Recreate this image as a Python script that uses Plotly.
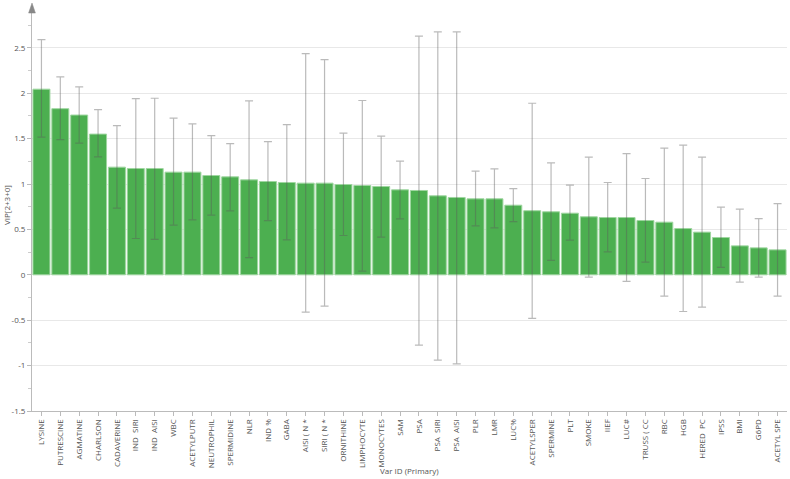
import plotly.graph_objects as go

categories = ["LYSINE", "PUTRESCINE", "AGMATINE", "CHARLSON", "CADAVERINE", "IND  SIRI", "IND  AISI",
              "WBC", "ACETYLPUTR", "NEUTROPHIL", "SPERMIDINE", "NLR", "IND %", "GABA", "AISI ( N *",
              "SIRI ( N *", "ORNITHINE", "LIMPHOCYTE", "MONOCYTES", "SAM", "PSA", "PSA  SIRI",
              "PSA  AISI", "PLR", "LMR", "LUC%", "ACETYLSPER", "SPERMINE", "PLT", "SMOKE", "IIEF",
              "LUC#", "TRUSS ( CC", "RBC", "HGB", "HERED  PC", "IPSS", "BMI", "G6PD", "ACETYL SPE"]

vip = [2.045, 1.83, 1.76, 1.55, 1.186, 1.171, 1.171, 1.131, 1.131, 1.094, 1.079, 1.046, 1.028, 1.017,
       1.01, 1.01, 0.995, 0.984, 0.973, 0.936, 0.929, 0.87, 0.852, 0.837, 0.837, 0.767, 0.706, 0.694,
       0.679, 0.639, 0.631, 0.631, 0.598, 0.58, 0.51, 0.47, 0.411, 0.319, 0.297, 0.275]

upper = [2.59, 2.18, 2.07, 1.82, 1.644, 1.94, 1.945, 1.726, 1.663, 1.534, 1.446, 1.916, 1.468, 1.655,
         2.437, 2.37, 1.56, 1.92, 1.527, 1.252, 2.63, 2.676, 2.676, 1.142, 1.167, 0.95, 1.89, 1.233,
         0.988, 1.296, 1.017, 1.336, 1.061, 1.395, 1.428, 1.296, 0.745, 0.723, 0.62, 0.785]

lower = [1.516, 1.49, 1.45, 1.30, 0.734, 0.40, 0.39, 0.547, 0.606, 0.657, 0.705, 0.19, 0.598, 0.385,
         -0.41, -0.345, 0.433, 0.04, 0.415, 0.617, -0.775, -0.94, -0.98, 0.54, 0.518, 0.587, -0.48, 0.16,
         0.382, -0.026, 0.253, -0.073, 0.139, -0.235, -0.404, -0.356, 0.081, -0.081, -0.026, -0.235]

y_ticks = [-1.5, -1, -0.5, 0, 0.5, 1, 1.5, 2, 2.5]
y_tick_text = ["-1.5", "-1", "-0.5", "0", "0.5", "1", "1.5", "2", "2.5"]

err_plus = [u - v for u, v in zip(upper, vip)]
err_minus = [v - l for v, l in zip(vip, lower)]

font_family = "Open Sans, Noto Sans, sans-serif"

fig = go.Figure()
fig.add_trace(go.Bar(
    x=categories, y=vip,
    marker=dict(color="#4CAF50", line=dict(color="#9fd6a0", width=1)),
    error_y=dict(type="data", symmetric=False, array=err_plus, arrayminus=err_minus,
                 color="rgba(90,90,90,0.42)", thickness=1.2, width=4),
    width=0.9,
))

fig.update_layout(
    width=790, height=479,
    margin=dict(l=32, r=3, t=7, b=68),
    paper_bgcolor="white", plot_bgcolor="white",
    showlegend=False,
    font=dict(family=font_family, size=8, color="#555"),
    xaxis=dict(
        type="category", range=[-0.5, 39.5], automargin=False,
        showline=True, linecolor="#bbb", linewidth=1,
        ticks="outside", ticklen=4, tickcolor="#bbb",
        tickangle=-90, tickfont=dict(size=8, color="#555"),
        showgrid=False,
    ),
    yaxis=dict(
        range=[-1.5, 2.95], automargin=False,
        tickvals=y_ticks, ticktext=y_tick_text,
        showline=True, linecolor="#bbb", linewidth=1,
        ticks="outside", ticklen=4, tickcolor="#bbb",
        tickfont=dict(size=8, color="#555"),
        showgrid=True, gridcolor="#e8e8e8", gridwidth=1,
        zeroline=False,
        minor=dict(dtick=0.25, ticks="outside", ticklen=3, tickcolor="#ccc", showgrid=False),
    ),
    annotations=[
        dict(text="VIP[2+3+0]", x=0, y=0.51, xref="paper", yref="paper", showarrow=False,
             textangle=-90, font=dict(size=8, color="#555"), xanchor="center", yanchor="middle",
             xshift=-25),
        dict(text="Var ID (Primary)", x=0.5, y=0, xref="paper", yref="paper", showarrow=False,
             font=dict(size=8, color="#555"), xanchor="center", yanchor="middle", yshift=-59, xshift=0),
    ],
    shapes=[
        dict(type="path", xref="paper", yref="paper",
             path="M -0.0045 0.985 L 0.0045 0.985 L 0 1.0099 Z",
             fillcolor="#888", line=dict(color="#888", width=0.5)),
    ],
)

fig.write_html("out.html", config={"displayModeBar": False},
               post_script="document.body.style.margin='0';")
